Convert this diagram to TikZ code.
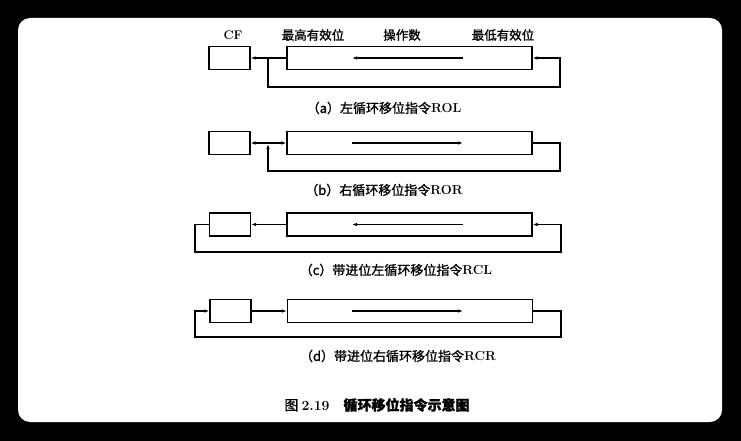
\documentclass[tikz,border=0pt]{standalone}
\usepackage{fontspec}
\newfontfamily\cjk{Noto Sans CJK SC}[FakeBold=1.2]
\usepackage{tikz}
\usetikzlibrary{arrows.meta}
\usetikzlibrary{positioning}

\begin{document}
\begin{tikzpicture}[x=1pt,y=-1pt,line width=1.1pt,
	reg/.style={draw,inner sep=0pt,minimum width=245pt,minimum height=23pt},
	cfbox/.style={draw,inner sep=0pt,minimum width=41pt,minimum height=23pt},
	arr/.style={-{Latex[length=5pt,width=3.5pt]}},
	lbl/.style={font=\fontsize{12.5}{14}\selectfont},
	captxt/.style={font=\fontsize{13}{15}\selectfont}]
	%card
	\useasboundingbox (0,0) rectangle (741,441);
	\fill[black] (0,0) rectangle (741,441);
	\fill[white,rounded corners=12pt] (18,18) rectangle (722,422);

	%(a) ROL
	\node[cfbox] (CF_a) at (229.5,58) {};
	\node[reg] (REG_a) at (409.5,58) {};
	\coordinate (J_a) at (268,58);
	\coordinate (RB_a) at (560,87);
	\coordinate (Rin_a) at (463,58);
	\coordinate (Lin_a) at (352,58);
	\draw[arr] (REG_a.west) -- (CF_a.east);
	\draw[arr] (J_a) |- (RB_a) |- (REG_a.east);
	\draw[arr] (Rin_a) -- (Lin_a);
	\node[lbl] (T_cf) at (233,35) {\bfseries CF};
	\node[lbl] (T_msb) at (313,35) {\cjk 最高有效位};
	\node[lbl] (T_op) at (402,35) {\cjk 操作数};
	\node[lbl] (T_lsb) at (503,35) {\cjk 最低有效位};
	\node[captxt] (C_a) at (384,108) {\cjk （a）左循环移位指令\normalfont\bfseries ROL};

	%(b) ROR
	\node[cfbox] (CF_b) at (229.5,143) {};
	\node[reg] (REG_b) at (409.5,143) {};
	\coordinate (J_b) at (268,143);
	\coordinate (RB_b) at (560,171);
	\coordinate (Lin_b) at (352,143);
	\coordinate (Rin_b) at (463,143);
	\draw[arr,shorten >=1pt] (REG_b.east) -| (RB_b) -| (J_b);
	\draw[arr] (J_b) -- (CF_b.east);
	\draw[arr] (J_b) -- (REG_b.west);
	\draw[arr] (Lin_b) -- (Rin_b);
	\node[captxt] (C_b) at (384,190) {\cjk （b）右循环移位指令\normalfont\bfseries ROR};

	%(c) RCL
	\node[cfbox] (CF_c) at (230,224.5) {};
	\node[reg] (REG_c) at (409.5,224.5) {};
	\coordinate (LB_c) at (195,252);
	\coordinate (RB_c) at (561,252);
	\coordinate (Rin_c) at (463,224.5);
	\coordinate (Lin_c) at (352,224.5);
	\draw[arr] (REG_c.west) -- (CF_c.east);
	\draw[arr] (CF_c.west) -| (LB_c) -- (RB_c) |- (REG_c.east);
	\draw[arr] (Rin_c) -- (Lin_c);
	\node[captxt] (C_c) at (396,270) {\cjk （c）带进位左循环移位指令\normalfont\bfseries RCL};

	%(d) RCR
	\node[cfbox] (CF_d) at (230.5,311) {};
	\node[reg] (REG_d) at (410,311) {};
	\coordinate (LB_d) at (195,337);
	\coordinate (RB_d) at (561,337);
	\coordinate (Lin_d) at (352,311);
	\coordinate (Rin_d) at (463,311);
	\draw[arr] (CF_d.east) -- (REG_d.west);
	\draw[arr] (REG_d.east) -| (RB_d) -- (LB_d) |- (CF_d.west);
	\draw[arr] (Lin_d) -- (Rin_d);
	\node[captxt] (C_d) at (398,356) {\cjk （d）带进位右循环移位指令\normalfont\bfseries RCR};

	%figure caption
	\node[font=\fontsize{14}{16}\selectfont] (FIG) at (377,405) {\cjk 图 \normalfont\bfseries 2.19\quad\cjk 循环移位指令示意图};
\end{tikzpicture}
\end{document}
